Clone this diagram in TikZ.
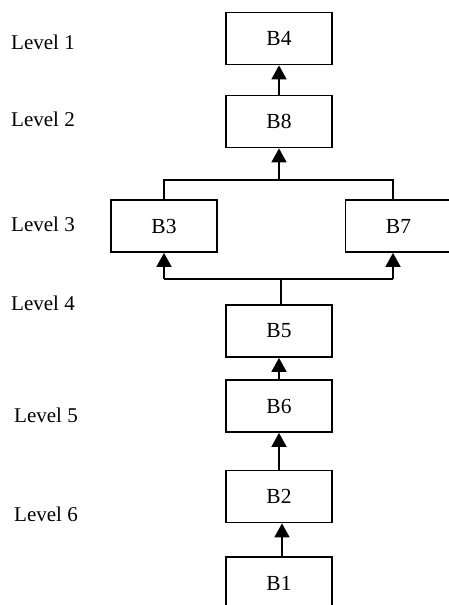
\documentclass[tikz,border=0pt]{standalone}
\usepackage{fontspec}
\setmainfont{Liberation Serif}
\usetikzlibrary{arrows.meta}
\begin{document}
\begin{tikzpicture}[x=1pt,y=-1pt,
  blk/.style={draw, line width=1.8pt, minimum width=106pt, minimum height=52pt, inner sep=0pt, font=\fontsize{21.5}{24}\selectfont},
  lvl/.style={anchor=base west, inner sep=0pt, font=\fontsize{21}{24}\selectfont},
  conn/.style={line width=1.8pt},
  arr/.style={conn, -{Triangle[width=15pt,length=14pt]}}]
\useasboundingbox (0,0) rectangle (449,605);
\clip (0,0) rectangle (449,605);
% level labels
\node[lvl] (l1) at (11,49.3) {Level 1};
\node[lvl] (l2) at (11,126) {Level 2};
\node[lvl] (l3) at (11,231.7) {Level 3};
\node[lvl] (l4) at (11,310) {Level 4};
\node[lvl] (l5) at (14,422) {Level 5};
\node[lvl] (l6) at (14,521.7) {Level 6};
% blocks
\node[blk] (B4) at (279,38.5) {B4};
\node[blk] (B8) at (279,121.5) {B8};
\node[blk] (B3) at (164,226) {B3};
\node[blk] (B7) at (398.5,226) {B7};
\node[blk] (B5) at (279,331) {B5};
\node[blk] (B6) at (279,406) {B6};
\node[blk] (B2) at (279,496.5) {B2};
\node[blk] (B1) at (279,583) {B1};
% junction coordinates
\coordinate (jt) at (279,180);
\coordinate (jtl) at (164,180);
\coordinate (jtr) at (393,180);
\coordinate (jb) at (281,279);
\coordinate (jbl) at (164,279);
\coordinate (jbr) at (393,279);
% connectors
\draw[arr] (B8.north) -- (B4.south);
\draw[conn] (B3.north) -- (jtl) -- (jtr) -- (jtr |- B7.north);
\draw[arr] (jt) -- (B8.south);
\draw[conn] (B5.north -| jb) -- (jb);
\draw[conn] (jbl) -- (jbr);
\draw[arr] (jbl) -- (B3.south);
\draw[arr] (jbr) -- (jbr |- B7.south);
\draw[arr] (B6.north) -- (B5.south);
\draw[arr] (B2.north) -- (B6.south);
\draw[arr] ([xshift=3pt]B1.north) -- ([xshift=3pt]B2.south);
\end{tikzpicture}
\end{document}
